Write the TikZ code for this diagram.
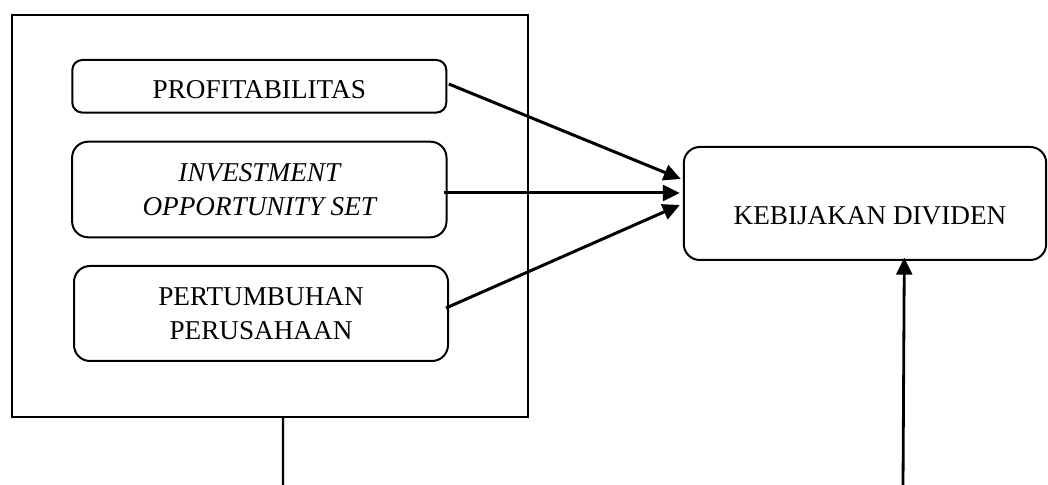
\documentclass[tikz,border=0pt]{standalone}
\usepackage{fontspec}
\setmainfont{Liberation Serif}
\usetikzlibrary{arrows.meta,calc}
\tikzset{
  varbox/.style={draw=black, line width=1pt, rectangle, inner sep=0pt, align=center,
    font=\fontsize{13.6}{17.3}\selectfont},
  frame/.style={draw=black, line width=1pt, rectangle, inner sep=0pt},
  conn/.style={line width=1.5pt, -{Triangle[length=8.5pt,width=8pt]}},
  plain/.style={line width=1.2pt}
}
\begin{document}
\begin{tikzpicture}[x=0.5pt,y=-0.5pt]
\useasboundingbox (0,0) rectangle (1048,485);
\node[frame, minimum width=258pt, minimum height=200.8pt] (o) at (269.7,215.9) {};
\node[varbox, rounded corners=5pt, minimum width=187pt, minimum height=26.3pt, text height=12pt] (p) at (259.3,86.3) {PROFITABILITAS};
\node[varbox, rounded corners=8pt, minimum width=187.2pt, minimum height=47.8pt] (i) at (259.3,189.5) {\itshape INVESTMENT\\\itshape OPPORTUNITY SET};
\node[varbox, rounded corners=8pt, minimum width=187pt, minimum height=47.5pt] (g) at (261,313.5) {PERTUMBUHAN\\PERUSAHAAN};
\node[varbox, rounded corners=8pt, minimum width=181.2pt, minimum height=56.5pt, text height=21.5pt] (k) at (865,203.5) {\hspace*{5pt}KEBIJAKAN DIVIDEN};
\coordinate (ob) at (283,486);
\coordinate (kb) at (903,486);
\draw[conn] ($(p.east)+(1.5,-2.3)$) -- ($(k.west)+(-2,-24.5)$);
\draw[conn] ($(i.east)+(-3.5,3.5)$) -- ($(k.west)+(-3,-10.5)$);
\draw[conn] ($(g.east)+(-3,-5.5)$) -- ($(k.west)+(-3,1.5)$);
\draw[plain] ($(o.south)+(13.3,0)$) -- (ob);
\draw[conn, line width=1.4pt] (kb) -- ($(k.south)+(39.3,-3.3)$);
\end{tikzpicture}
\end{document}
